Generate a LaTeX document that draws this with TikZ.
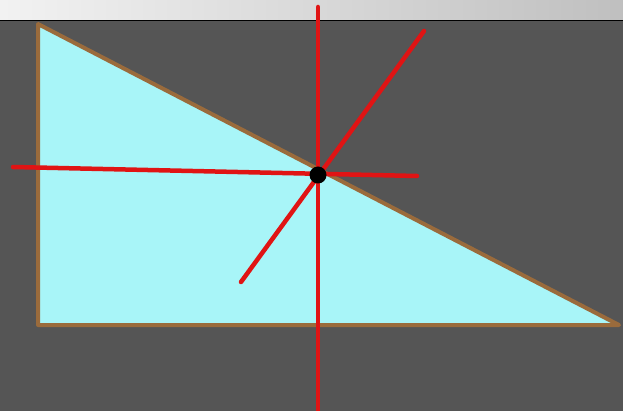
\documentclass[tikz,border=0pt]{standalone}
\usepackage{xcolor}
\usepackage{tikz}
\usetikzlibrary{positioning, calc, backgrounds}

\definecolor{bggray}{HTML}{555555}
\definecolor{edgebrown}{HTML}{9A6B3C}
\definecolor{fillcyan}{HTML}{A8F5F8}
\definecolor{linered}{HTML}{E01414}

\begin{document}
\begin{tikzpicture}[
    x=1pt, y=-1pt,
    edge/.style={
        draw=edgebrown,
        line width=4pt,
        line join=round,
        fill=fillcyan
    },
    redline/.style={
        draw=linered,
        line width=4.5pt,
        line cap=round
    }
]
  \useasboundingbox (0,0) rectangle (623,411);
  % background and top strip
  \fill[bggray] (-2,-2) rectangle (625,413);
  \shade[left color=black!5, right color=black!25] (-2,-2) rectangle (625,20);
  \draw[black, line width=1.5pt] (-2,20.5) -- (625,20.5);

  % triangle
  \coordinate (a) at (38,24);
  \coordinate (b) at (38,325);
  \coordinate (c) at (619,325);
  \draw[edge] (a) -- (b) -- (c) -- cycle;

  % lines through the point
  \coordinate (p) at (318,175);
  \coordinate (vtop) at (318,7);
  \coordinate (vbot) at (318,413);
  \coordinate (hl) at (13,167);
  \coordinate (hr) at (417,176);
  \coordinate (dl) at (241,282);
  \coordinate (dr) at (424,31);
  \draw[redline] (vtop) -- (vbot);
  \draw[redline] (hl) -- (hr);
  \draw[redline] (dl) -- (dr);
  \fill[black] (p) circle (8.5pt);
\end{tikzpicture}
\end{document}
